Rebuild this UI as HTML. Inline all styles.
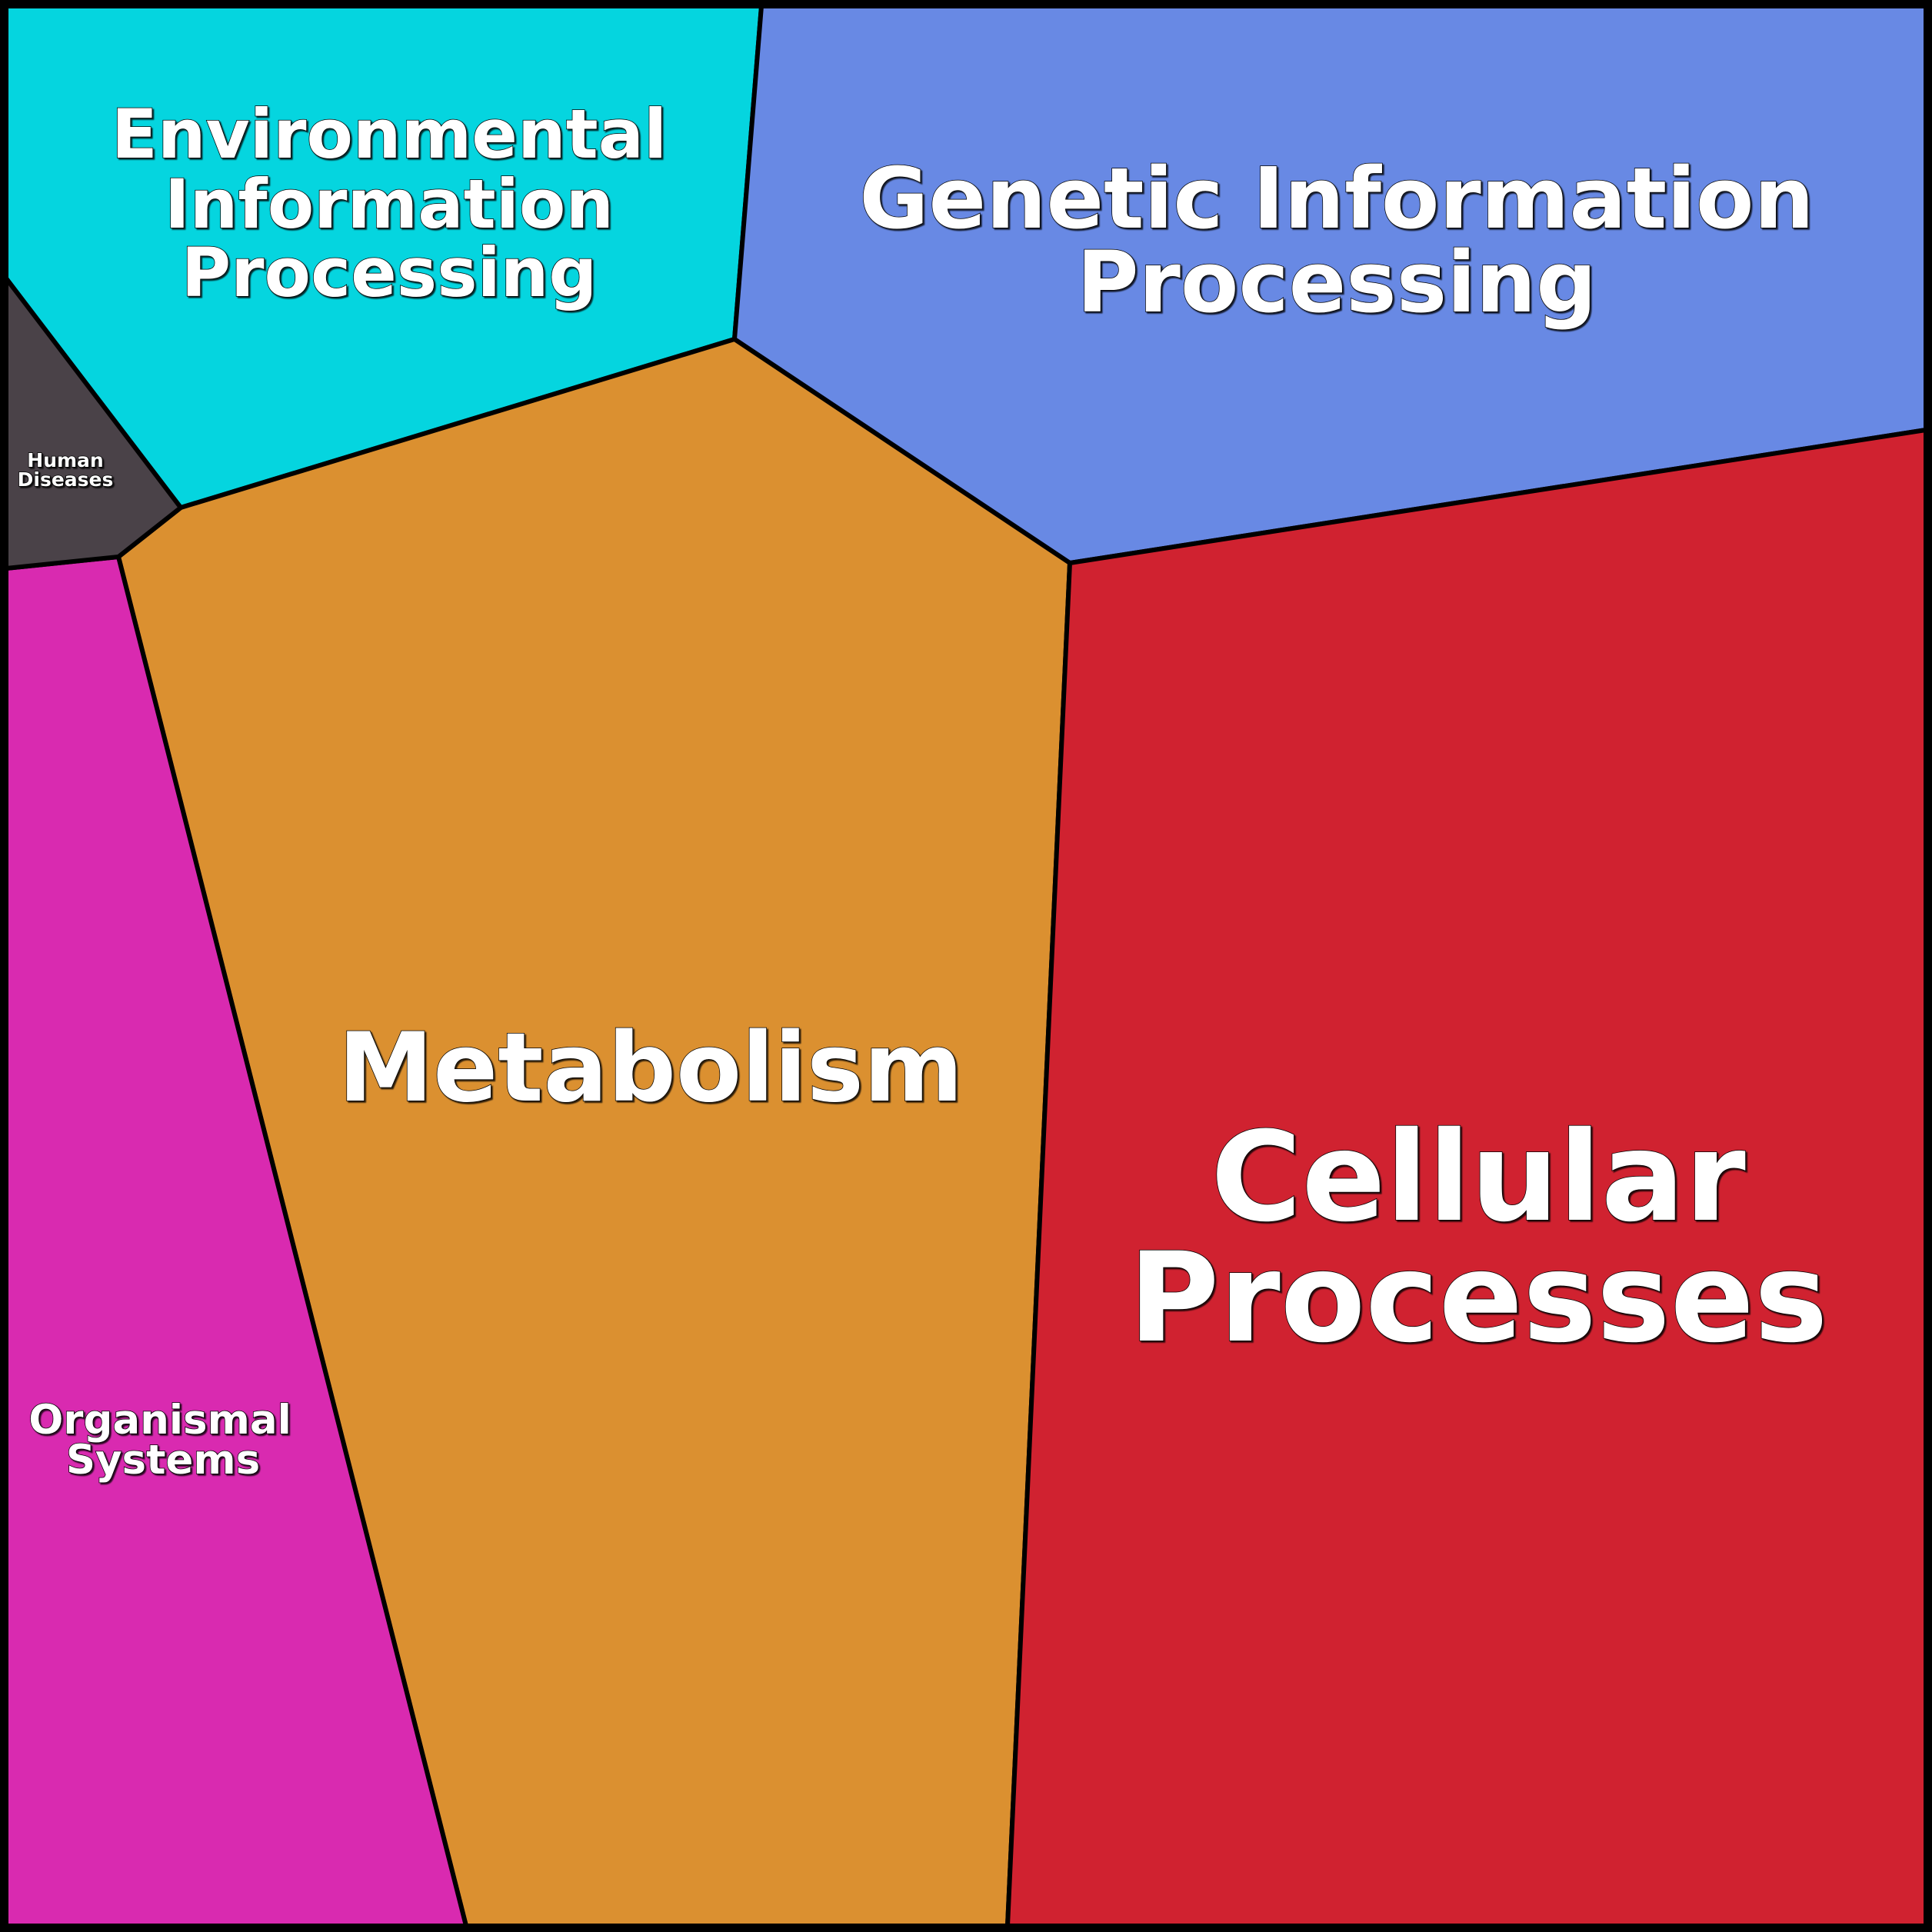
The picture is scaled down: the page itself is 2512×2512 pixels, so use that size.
<!DOCTYPE html>
<html><head><meta charset="utf-8"><style>
html,body{margin:0;padding:0;background:#000}
svg{display:block}
text{font-family:"DejaVu Sans","Liberation Sans",sans-serif;font-weight:bold;fill:#fff;text-anchor:middle;stroke:#000;stroke-width:1.5;paint-order:stroke}
</style></head><body>
<svg width="2512" height="2512" viewBox="0 0 2512 2512" xmlns="http://www.w3.org/2000/svg">
<defs><filter id="sh"><feDropShadow dx="2" dy="2" stdDeviation="0.8" flood-color="#000" flood-opacity="0.8"/></filter></defs>
<g stroke="#000" stroke-width="6" stroke-linejoin="round">
<polygon points="8,8 990,8 955,441 235,660 8,362" fill="#05d5df"/>
<polygon points="990,8 2504,8 2504,559 1391,732 955,441" fill="#6889e4"/>
<polygon points="955,441 1391,732 1310,2504 606,2504 154,724 235,660" fill="#db9030"/>
<polygon points="1391,732 2504,559 2504,2504 1310,2504" fill="#d02230"/>
<polygon points="8,739 154,724 606,2504 8,2504" fill="#d92ab0"/>
<polygon points="8,362 235,660 154,724 8,739" fill="#4a4248"/>
</g>
<rect x="5" y="5" width="2502" height="2502" fill="none" stroke="#000" stroke-width="10"/>
<g filter="url(#sh)">
<text x="506" y="205" font-size="88">Environmental</text>
<text x="506" y="296" font-size="88">Information</text>
<text x="506" y="385" font-size="88">Processing</text>
<text x="1738" y="296" font-size="110">Genetic Information</text>
<text x="1738" y="405" font-size="110">Processing</text>
<text x="846" y="1431" font-size="124">Metabolism</text>
<text x="1922" y="1586" font-size="161">Cellular</text>
<text x="1922" y="1743" font-size="161">Processes</text>
<text x="85" y="607" font-size="25" stroke-width="0.8">Human</text>
<text x="85" y="632" font-size="25" stroke-width="0.8">Diseases</text>
<text x="208" y="1864" font-size="53" stroke-width="1">Organismal</text>
<text x="212" y="1916" font-size="53" stroke-width="1">Systems</text>
</g>
</svg>
</body></html>
